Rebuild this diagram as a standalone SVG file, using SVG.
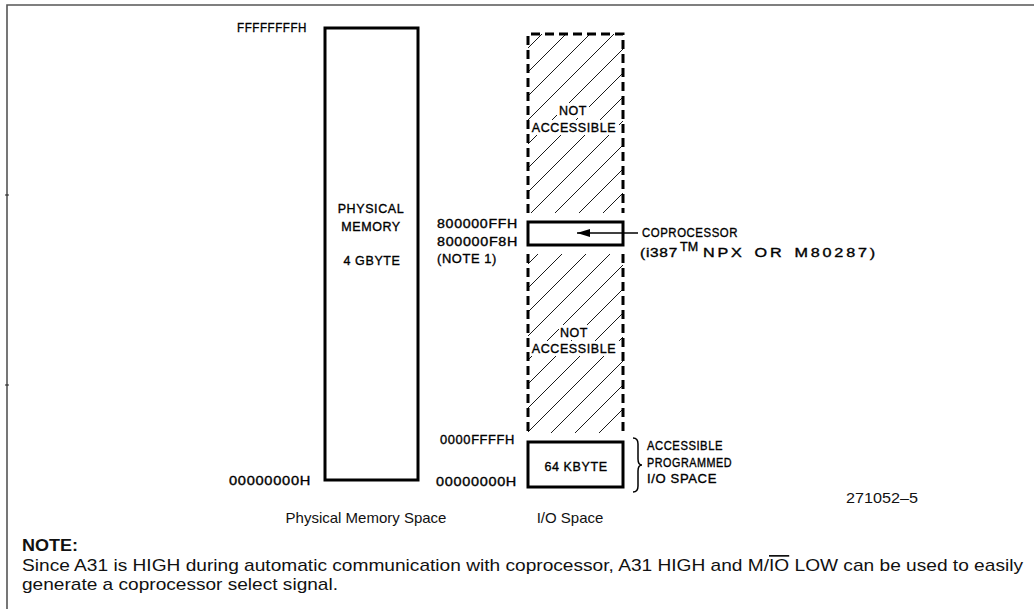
<svg xmlns="http://www.w3.org/2000/svg" width="1034" height="609" viewBox="0 0 1034 609">
<style>
.lbl{font-family:"Liberation Sans",Arial,sans-serif;font-size:12.5px;fill:#000;stroke:#000;stroke-width:0.35;letter-spacing:0.6px}
.mid{text-anchor:middle}
.cap{font-family:"Liberation Sans",Arial,sans-serif;font-size:15px;fill:#111;text-anchor:middle}
.body{font-family:"Liberation Sans",Arial,sans-serif;font-size:17px;fill:#111}
.box{fill:none;stroke:#000;stroke-width:3}
.dash{fill:none;stroke:#000;stroke-width:3;stroke-dasharray:9 5}
</style>
<defs>
<pattern id="hatch" patternUnits="userSpaceOnUse" width="24" height="24">
<path d="M-6,6 L6,-6 M0,24 L24,0 M18,30 L30,18" stroke="#000" stroke-width="0.9"/>
</pattern>
<marker id="arr" markerWidth="13" markerHeight="8" refX="13" refY="4" orient="auto" markerUnits="userSpaceOnUse">
<path d="M0,0 L13,4 L0,8 z" fill="#000"/>
</marker>
</defs>
<g id="frame">
<path d="M7,609 V5 H1034" fill="none" stroke="#555" stroke-width="1.6"/>
<path d="M5,195 H9 M5,385 H9" stroke="#222" stroke-width="1"/>
</g>
<g id="physical-memory">
<rect class="box" x="325" y="28" width="93" height="452"/>
<text class="lbl mid" x="371" y="213">PHYSICAL</text>
<text class="lbl mid" x="371" y="231">MEMORY</text>
<text class="lbl mid" x="372" y="265">4 GBYTE</text>
<text class="lbl" x="237" y="32" textLength="70" lengthAdjust="spacingAndGlyphs">FFFFFFFFH</text>
<text class="lbl" x="229" y="485" textLength="82" lengthAdjust="spacingAndGlyphs">00000000H</text>
</g>
<g id="io-upper">
<rect x="528" y="34" width="95" height="179" fill="url(#hatch)"/>
<rect x="557" y="103" width="32" height="15" fill="#fff"/>
<rect x="532" y="120" width="87" height="15" fill="#fff"/>
<path class="dash" d="M528,213 V34 H623 V213"/>
<text class="lbl mid" x="573" y="115">NOT</text>
<text class="lbl mid" x="574" y="132">ACCESSIBLE</text>
</g>
<g id="coprocessor">
<rect class="box" x="528" y="222" width="95" height="23" fill="#fff"/>
<text class="lbl" x="437" y="228" textLength="81" lengthAdjust="spacingAndGlyphs">800000FFH</text>
<text class="lbl" x="437" y="246" textLength="81" lengthAdjust="spacingAndGlyphs">800000F8H</text>
<text class="lbl" x="437" y="263" textLength="60" lengthAdjust="spacingAndGlyphs">(NOTE 1)</text>
<text class="lbl" x="642" y="237" textLength="96" lengthAdjust="spacingAndGlyphs">COPROCESSOR</text>
<text class="lbl" x="640" y="257" textLength="38" lengthAdjust="spacingAndGlyphs">(i387</text>
<text class="lbl" x="680" y="251" font-size="9" style="letter-spacing:0">TM</text>
<text class="lbl" x="703" y="257" textLength="175" lengthAdjust="spacingAndGlyphs" style="letter-spacing:2.2px;word-spacing:2px">NPX OR M80287)</text>
</g>
<g id="io-lower">
<rect x="528" y="254" width="95" height="179" fill="url(#hatch)"/>
<rect x="559" y="325" width="32" height="15" fill="#fff"/>
<rect x="532" y="341" width="87" height="15" fill="#fff"/>
<path class="dash" d="M528,254 V433 M623,254 V433"/>
<text class="lbl mid" x="574" y="337">NOT</text>
<text class="lbl mid" x="574" y="353">ACCESSIBLE</text>
</g>
<g id="io-64k">
<rect class="box" x="528" y="442" width="95" height="45"/>
<text class="lbl mid" x="576" y="471">64 KBYTE</text>
<text class="lbl" x="440" y="444" textLength="75" lengthAdjust="spacingAndGlyphs">0000FFFFH</text>
<text class="lbl" x="436" y="486" textLength="81" lengthAdjust="spacingAndGlyphs">00000000H</text>
<path d="M633,438 Q638,438 638,444 L638,459 Q638,465 642,465 Q638,465 638,471 L638,486 Q638,492 633,492" fill="none" stroke="#000" stroke-width="1.5"/>
<text class="lbl" x="647" y="450" textLength="76" lengthAdjust="spacingAndGlyphs">ACCESSIBLE</text>
<text class="lbl" x="647" y="467" textLength="85" lengthAdjust="spacingAndGlyphs">PROGRAMMED</text>
<text class="lbl" x="647" y="483" textLength="70" lengthAdjust="spacingAndGlyphs">I/O SPACE</text>
</g>
<g id="connectors">
<line x1="638" y1="233" x2="577" y2="233" stroke="#000" stroke-width="1.5" marker-end="url(#arr)"/>
</g>
<g id="captions">
<text class="cap" x="366" y="523">Physical Memory Space</text>
<text class="cap" x="570" y="523">I/O Space</text>
<text x="846" y="503" textLength="72" lengthAdjust="spacingAndGlyphs" style="font-family:'Liberation Sans',Arial,sans-serif;font-size:15px;fill:#111">271052–5</text>
</g>
<g id="note">
<text class="body" x="22" y="551" font-weight="bold" textLength="56" lengthAdjust="spacingAndGlyphs">NOTE:</text>
<text class="body" x="22" y="571" textLength="1001" lengthAdjust="spacingAndGlyphs">Since A31 is HIGH during automatic communication with coprocessor, A31 HIGH and M/<tspan text-decoration="overline">IO</tspan> LOW can be used to easily</text>
<text class="body" x="22" y="590" textLength="316" lengthAdjust="spacingAndGlyphs">generate a coprocessor select signal.</text>
</g>
</svg>
